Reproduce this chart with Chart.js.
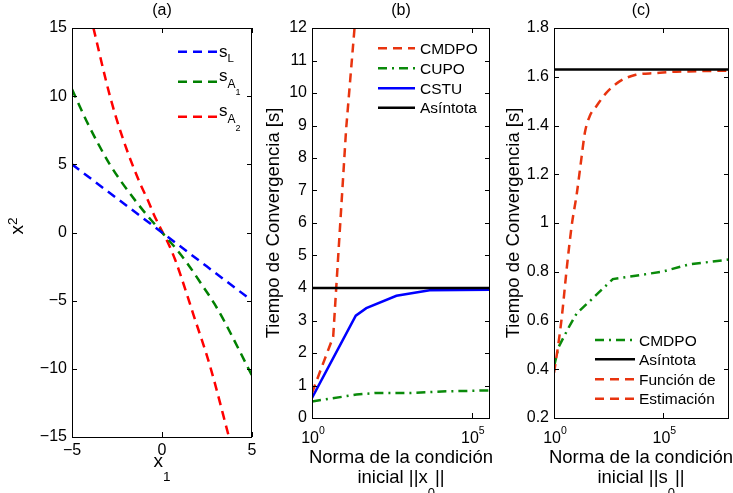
<!DOCTYPE html>
<html>
<head>
<meta charset="utf-8">
<script src="https://cdn.jsdelivr.net/npm/chart.js@4.4.1/dist/chart.umd.min.js"></script>
<style>
  html, body { margin: 0; padding: 0; background: #fff; }
  #wrap { position: relative; width: 733px; height: 493px; overflow: hidden; }
  #wrap canvas { position: absolute; left: 0; top: 0; }
</style>
</head>
<body>
<div id="wrap">
  <canvas id="chartA" width="733" height="493"></canvas>
  <canvas id="chartB" width="733" height="493"></canvas>
  <canvas id="chartC" width="733" height="493"></canvas>
</div>
<script>
const FONT = "'Liberation Sans', Arial, sans-serif";
const TICK_SIZE = 16;

// ===== (a) superficies s_L, s_A1, s_A2 =====
const sLx = [-5, -2.5, 0, 2.5, 5];
const sLy = [5, 2.5, 0, -2.5, -5];
const sA1x = [-5, -4.2, -3.5, -2.9, -2.3, -1.4, -0.85, 0, 0.85, 1.4, 2.3, 2.9, 3.5, 4.2, 5];
const sA1y = [10.5, 8.2, 6.4, 5.0, 3.8, 2.2, 1.3, 0, -1.3, -2.25, -4.0, -5.2, -6.6, -8.4, -10.5];
const sA2x = [-3.81, -2.89, -2.15, -1.22, -0.76, -0.48, 0, 0.35, 0.72, 1.0, 1.74, 2.67, 3.72];
const sA2y = [15, 10, 6.8, 3.6, 2.3, 1.4, 0.1, -0.8, -1.96, -3.0, -6.0, -9.8, -15];
const aXTicks = [-5, 0, 5];
const aYTicks = [-15, -10, -5, 0, 5, 10, 15];

// ===== (b) tiempo de convergencia vs ||x0|| =====
const bCmdpoX = [1, 4.6, 11.7, 21.4];
const bCmdpoY = [0.77, 2.5, 8.9, 12];
const bCupoX = [1, 24.5, 100, 1120, 15800, 370000];
const bCupoY = [0.51, 0.72, 0.77, 0.77, 0.82, 0.85];
const bCstuX = [1, 23.4, 50, 437, 4790, 370000];
const bCstuY = [0.62, 3.15, 3.38, 3.76, 3.93, 3.95];
const bAsintX = [1, 370000];
const bAsintY = [4, 4];
const bXTicks = [1, 1e5];
const bYTicks = [0, 1, 2, 3, 4, 5, 6, 7, 8, 9, 10, 11, 12];
const bLegend = ['CMDPO', 'CUPO', 'CSTU', 'Asíntota'];

// ===== (c) tiempo de convergencia vs ||s0|| =====
const cCmdpoX = [1, 1.6, 4.6, 11, 44, 490, 2750, 87000, 1450000, 1e8];
const cCmdpoY = [0.41, 0.49, 0.57, 0.63, 0.68, 0.77, 0.78, 0.80, 0.83, 0.85];
const cAsintX = [1, 1e8];
const cAsintY = [1.63, 1.63];
const cEstX = [1, 1.62, 2.29, 3.89, 6.46, 11, 18.2, 25.7, 43.7, 85, 240, 955, 5500, 44700, 250000, 1450000, 1e8];
const cEstY = [0.385, 0.51, 0.617, 0.82, 0.99, 1.12, 1.27, 1.37, 1.44, 1.478, 1.533, 1.58, 1.608, 1.615, 1.62, 1.622, 1.625];
const cXTicks = [1, 1e5];
const cYTicks = [0.2, 0.4, 0.6, 0.8, 1, 1.2, 1.4, 1.6, 1.8];
const cLegend = ['CMDPO', 'Asíntota', 'Función de', 'Estimación'];

const pts = (xs, ys) => xs.map((x, i) => ({ x, y: ys[i] }));
const minus = v => (v < 0 ? '\u2212' + Math.abs(v) : String(v));

function serie(data, color, dash, order, smooth) {
  return {
    data, borderColor: color, borderWidth: 2.5, borderDash: dash,
    pointRadius: 0, showLine: true, fill: false, order,
    cubicInterpolationMode: smooth ? 'monotone' : 'default', tension: 0
  };
}

// texto con sub/superíndices: partes = [texto, tamaño, desplazamiento vertical]
function rich(ctx, parts, x, y, align, rot) {
  ctx.save();
  ctx.translate(x, y);
  if (rot) ctx.rotate(rot);
  let w = 0;
  parts.forEach(p => { ctx.font = p[1] + 'px ' + FONT; w += ctx.measureText(p[0]).width; });
  let cx = align === 'center' ? -w / 2 : 0;
  ctx.textAlign = 'left';
  ctx.textBaseline = 'alphabetic';
  ctx.fillStyle = '#000';
  parts.forEach(p => {
    ctx.font = p[1] + 'px ' + FONT;
    ctx.fillText(p[0], cx, p[2] || 0);
    cx += ctx.measureText(p[0]).width;
  });
  ctx.restore();
}

// caja, marcas hacia dentro, leyenda y rótulos
const deco = {
  id: 'deco',
  afterDatasetsDraw(chart, args, o) {
    const ctx = chart.ctx, a = chart.chartArea;
    const xs = chart.scales.x, ys = chart.scales.y;
    ctx.save();
    ctx.strokeStyle = '#000';
    ctx.lineWidth = 1;
    ctx.setLineDash([]);
    ctx.beginPath();
    xs.ticks.forEach(t => {
      const px = Math.round(xs.getPixelForValue(t.value)) + 0.5;
      ctx.moveTo(px, a.bottom); ctx.lineTo(px, a.bottom - 5);
      ctx.moveTo(px, a.top); ctx.lineTo(px, a.top + 5);
    });
    ys.ticks.forEach(t => {
      const py = Math.round(ys.getPixelForValue(t.value)) + 0.5;
      ctx.moveTo(a.left, py); ctx.lineTo(a.left + 5, py);
      ctx.moveTo(a.right, py); ctx.lineTo(a.right - 5, py);
    });
    ctx.stroke();
    ctx.strokeRect(a.left + 0.5, a.top + 0.5, a.right - a.left - 1, a.bottom - a.top);

    // etiquetas 10^n del eje logarítmico
    if (o.logTicks) {
      xs.ticks.forEach(t => {
        const px = xs.getPixelForValue(t.value);
        const e = String(Math.round(Math.log10(t.value)));
        rich(ctx, [['10', TICK_SIZE, 0], [e, 10.5, -9.5]], px + 1, a.bottom + 25, 'center');
      });
    }

    // leyenda
    const lg = o.legend;
    lg.rows.forEach(r => {
      const ds = chart.data.datasets[r.ds];
      ctx.strokeStyle = ds.borderColor;
      ctx.lineWidth = ds.borderWidth;
      ctx.setLineDash(ds.borderDash || []);
      ctx.beginPath();
      ctx.moveTo(lg.x0, r.y);
      ctx.lineTo(lg.x1, r.y);
      ctx.stroke();
      rich(ctx, r.parts, lg.tx, r.ty, 'left');
    });
    ctx.setLineDash([]);

    o.texts.forEach(t => rich(ctx, t.parts, t.x, t.y, t.align || 'center', t.rot || 0));
    ctx.restore();
  }
};

function axisY(ticks, min, max, fmt) {
  return {
    type: 'linear', min, max,
    afterBuildTicks: s => { s.ticks = ticks.map(v => ({ value: v })); },
    afterFit: s => { s.width = 40; },
    grid: { display: false, drawTicks: false }, border: { display: false },
    ticks: { font: { family: FONT, size: TICK_SIZE }, color: '#000', padding: 5, autoSkip: false, callback: fmt }
  };
}

function axisXLog(ticks, min, max) {
  return {
    type: 'logarithmic', min, max,
    afterBuildTicks: s => { s.ticks = ticks.map(v => ({ value: v })); },
    afterFit: s => { s.height = 30; },
    grid: { display: false, drawTicks: false }, border: { display: false },
    ticks: { display: false }
  };
}

function makeChart(id, box, datasets, scales, deco_opts) {
  return new Chart(document.getElementById(id), {
    type: 'scatter',
    data: { datasets },
    options: {
      responsive: false, animation: false, devicePixelRatio: 1, events: [],
      layout: { padding: { left: box.l - 40, top: box.t, right: 733 - box.r, bottom: 493 - box.b - 30 } },
      plugins: { legend: { display: false }, tooltip: { enabled: false }, deco: deco_opts },
      scales
    },
    plugins: [deco]
  });
}

const DASH = [9, 6];
const DASHDOT = [9, 5, 2, 5];
const RED = '#e8340f';
const GREEN = '#0a8a0a';

// ----- (a) -----
makeChart('chartA', { l: 72, t: 28, r: 252, b: 437 }, [
  serie(pts(sLx, sLy), '#0000ff', DASH, 0, false),
  serie(pts(sA1x, sA1y), '#008000', DASH, 1, true),
  serie(pts(sA2x, sA2y), '#ff0000', DASH, 2, true)
], {
  x: {
    type: 'linear', min: -5, max: 5,
    afterBuildTicks: s => { s.ticks = aXTicks.map(v => ({ value: v })); },
    afterFit: s => { s.height = 30; },
    grid: { display: false, drawTicks: false }, border: { display: false },
    ticks: { font: { family: FONT, size: TICK_SIZE }, color: '#000', padding: 4, autoSkip: false, maxRotation: 0, callback: minus }
  },
  y: axisY(aYTicks, -15, 15, minus)
}, {
  legend: {
    x0: 178, x1: 218, tx: 219,
    rows: [
      { ds: 0, y: 51.7, ty: 56.5, parts: [['s', 17], ['L', 11.5, 5.5]] },
      { ds: 1, y: 81.7, ty: 81, parts: [['s', 17], ['A', 12, 7], ['1', 9, 13.5]] },
      { ds: 2, y: 116.7, ty: 115.5, parts: [['s', 17], ['A', 12, 7.5], ['2', 9, 15]] }
    ]
  },
  texts: [
    { parts: [['(a)', 16]], x: 162, y: 15 },
    { parts: [['x', 19], ['1', 13.5, 14]], x: 162, y: 466.5 },
    { parts: [['x', 19], ['2', 13.5, -5.4]], x: 22.7, y: 226, rot: -Math.PI / 2 }
  ]
});

// ----- (b) -----
makeChart('chartB', { l: 312, t: 28, r: 490, b: 418 }, [
  serie(pts(bCmdpoX, bCmdpoY), RED, DASH, 1, false),
  serie(pts(bCupoX, bCupoY), GREEN, DASHDOT, 2, false),
  serie(pts(bCstuX, bCstuY), '#0000ff', [], 3, false),
  serie(pts(bAsintX, bAsintY), '#000000', [], 0, false)
], {
  x: axisXLog(bXTicks, 1, 370000),
  y: axisY(bYTicks, 0, 12, v => String(v))
}, {
  logTicks: true,
  legend: {
    x0: 378, x1: 415, tx: 420,
    rows: [48.3, 68.3, 88.3, 107.7].map((y, i) => ({ ds: i, y, ty: y + 5.5, parts: [[bLegend[i], 15.5]] }))
  },
  texts: [
    { parts: [['(b)', 16]], x: 401, y: 15 },
    { parts: [['Norma de la condición', 18.5]], x: 401, y: 463 },
    { parts: [['inicial ||x', 18.5], ['0', 13, 13.5], ['||', 18.5]], x: 401, y: 483 },
    { parts: [['Tiempo de Convergencia [s]', 18.5]], x: 279, y: 223, rot: -Math.PI / 2 }
  ]
});

// ----- (c) -----
makeChart('chartC', { l: 554, t: 28, r: 729, b: 418 }, [
  serie(pts(cCmdpoX, cCmdpoY), GREEN, DASHDOT, 2, false),
  serie(pts(cAsintX, cAsintY), '#000000', [], 0, false),
  serie(pts(cEstX, cEstY), RED, DASH, 1, true)
], {
  x: axisXLog(cXTicks, 1, 1e8),
  y: axisY(cYTicks, 0.2, 1.8, v => String(+v.toFixed(1)))
}, {
  logTicks: true,
  legend: {
    x0: 595, x1: 635, tx: 639,
    rows: [340, 359.3, 379.3, 398.7].map((y, i) => ({ ds: [0, 1, 2, 2][i], y, ty: y + 5.5, parts: [[cLegend[i], 15.5]] }))
  },
  texts: [
    { parts: [['(c)', 16]], x: 641, y: 15 },
    { parts: [['Norma de la condición', 18.5]], x: 641, y: 463 },
    { parts: [['inicial ||s', 18.5], ['0', 13, 13.5], ['||', 18.5]], x: 641, y: 483 },
    { parts: [['Tiempo de Convergencia [s]', 18.5]], x: 518.5, y: 223, rot: -Math.PI / 2 }
  ]
});
</script>
</body>
</html>
